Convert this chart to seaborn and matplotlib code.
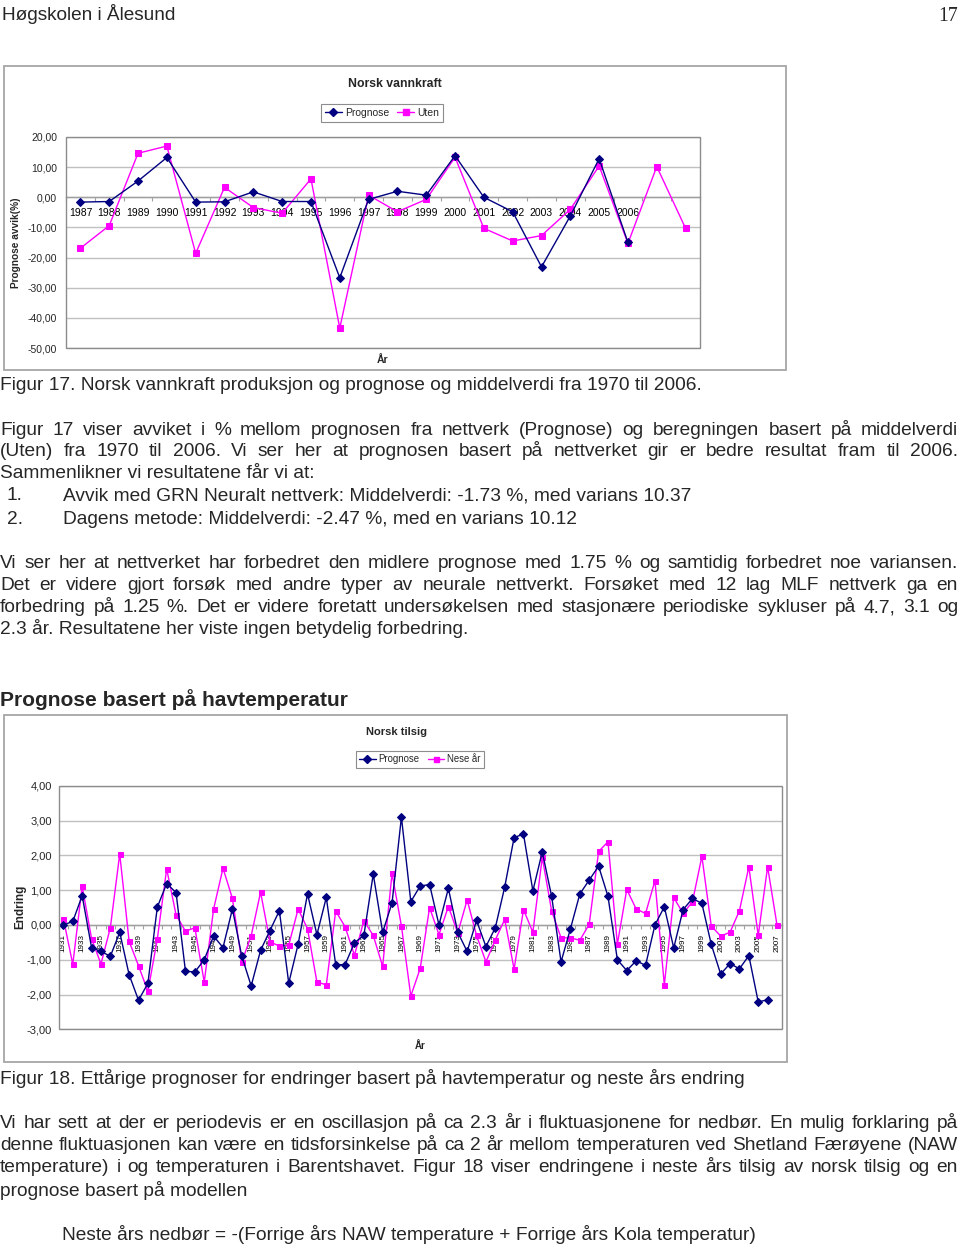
import numpy as np
import pandas as pd
import matplotlib
matplotlib.use("Agg")
import matplotlib.pyplot as plt
import seaborn as sns
from matplotlib.lines import Line2D
from matplotlib.patches import Rectangle
from matplotlib.ticker import FixedLocator, FuncFormatter, NullFormatter

# ---------------- data: chart 1 (Norsk vannkraft) ----------------
years1 = [str(y) for y in range(1987, 2007)] + ["", ""]
prognose1 = [-1.6, -1.4, 5.4, 13.2, -1.6, -1.5, 1.8, -1.4, -1.4, -26.7,
             -0.7, 2.0, 0.7, 13.8, 0.0, -4.8, -23.1, -6.2, 12.8, -15.0]
uten1 = [-16.9, -9.4, 14.6, 17.0, -18.6, 3.3, -3.4, -5.3, 6.1, -43.4,
         0.7, -4.8, -0.7, 13.3, -10.3, -14.5, -12.7, -4.0, 10.4, -15.3,
         10.2, -10.3]
yticks1 = [20, 10, 0, -10, -20, -30, -40, -50]

# ---------------- data: chart 2 (Norsk tilsig) ----------------
years2 = list(range(1931, 2008))
prognose2 = [0.00, 0.10, 0.84, -0.65, -0.76, -0.90, -0.21, -1.43, -2.16, -1.68,
             0.51, 1.19, 0.93, -1.33, -1.35, -1.00, -0.32, -0.65, 0.46, -0.90,
             -1.75, -0.73, -0.16, 0.41, -1.67, -0.55, 0.89, -0.28, 0.79, -1.14,
             -1.14, -0.51, -0.30, 1.46, -0.21, 0.63, 3.10, 0.67, 1.12, 1.16,
             0.00, 1.05, -0.21, -0.76, 0.13, -0.62, -0.08, 1.09, 2.51, 2.61,
             0.98, 2.10, 0.82, -1.06, -0.11, 0.89, 1.29, 1.69, 0.82, -1.00,
             -1.31, -1.03, -1.16, 0.00, 0.52, -0.66, 0.44, 0.76, 0.62, -0.56,
             -1.41, -1.11, -1.26, -0.88, -2.21, -2.15]
nese2 = [0.18, -1.13, 1.11, -0.39, -1.12, -0.08, 2.04, -0.47, -1.17, -1.91,
         -0.41, 1.61, 0.29, -0.18, -0.08, -1.64, 0.46, 1.63, 0.76, -1.06,
         -0.31, 0.94, -0.48, -0.61, -0.58, 0.46, -0.11, -1.64, -1.72, 0.40,
         -0.05, -0.87, 0.12, -0.30, -1.19, 1.48, -0.03, -2.04, -1.25, 0.50,
         -0.28, 0.53, -0.23, 0.72, -0.30, -1.06, -0.43, 0.16, -1.27, 0.44,
         -0.21, 1.94, 0.40, -0.37, -0.37, -0.44, 0.02, 2.11, 2.39, -0.55,
         1.02, 0.46, 0.33, 1.27, -1.72, 0.79, 0.33, 0.67, 1.97, -0.03,
         -0.32, -0.21, 0.41, 1.67, -0.30, 1.67, 0.00]
yticks2 = [4, 3, 2, 1, 0, -1, -2, -3]

NAVY = "#000080"
MAGENTA = "#FF00FF"
GRID = "#C0C0C0"
BORDER = "#8C8C8C"
FRAME = "#A6A6A6"

sns.set_style("white")
plt.rcParams["font.family"] = ["Liberation Sans", "DejaVu Sans"]

W, H = 960, 1245
fig = plt.figure(figsize=(W / 100, H / 100), dpi=100)
renderer = fig.canvas.get_renderer()


def fx(x):
    return x / W


def fy(y):
    return 1 - y / H


def axes_px(x0, y0, x1, y1):
    return fig.add_axes([fx(x0), fy(y1), (x1 - x0) / W, (y1 - y0) / H])


def frame_px(x0, y0, x1, y1):
    fig.patches.append(Rectangle((fx(x0), fy(y1)), (x1 - x0) / W, (y1 - y0) / H,
                                 transform=fig.transFigure, fill=False,
                                 edgecolor=FRAME, linewidth=1.3))


def comma_fmt(v, pos):
    return f"{v:.2f}".replace(".", ",")


def style_axes(ax, ncat, labels, yticks, ylim, ysize, xsize, xrot, xpad, ypad, label_every=1):
    ax.set_xlim(-0.5, ncat - 0.5)
    ax.set_ylim(*ylim)
    for s in ["top", "right", "left"]:
        ax.spines[s].set_visible(False)
    ax.spines["bottom"].set_position(("data", 0))
    ax.spines["bottom"].set_color("#A0A0A0")
    ax.spines["bottom"].set_linewidth(1.0)
    ax.add_patch(Rectangle((0, 0), 1, 1, transform=ax.transAxes, fill=False,
                           edgecolor=BORDER, linewidth=1.0, clip_on=False, zorder=5))
    ax.yaxis.set_major_locator(FixedLocator(yticks))
    ax.yaxis.set_major_formatter(FuncFormatter(comma_fmt))
    ax.yaxis.grid(True, color=GRID, linewidth=1.0)
    ax.xaxis.grid(False)
    ax.set_axisbelow(True)
    pos = [i for i in range(ncat) if i % label_every == 0 and labels[i] != ""]
    ax.xaxis.set_major_locator(FixedLocator(pos))
    ax.set_xticklabels([labels[i] for i in pos])
    ax.xaxis.set_minor_locator(FixedLocator(np.arange(ncat + 1) - 0.5))
    ax.xaxis.set_minor_formatter(NullFormatter())
    ax.tick_params(axis="x", which="major", length=0, pad=xpad, labelsize=xsize,
                   labelrotation=xrot, colors="black")
    ax.tick_params(axis="x", which="minor", length=3, width=0.8, color="#A0A0A0",
                   direction="out", bottom=True)
    ax.tick_params(axis="y", length=0, pad=ypad, labelsize=ysize)
    ax.set_xlabel("")
    ax.set_ylabel("")


# ---------------- header ----------------
fig.text(fx(2), fy(20), "Høgskolen i Ålesund", fontsize=13.7, va="baseline", ha="left")
fig.text(fx(958), fy(21), "17", fontsize=14.2, va="baseline", ha="right",
         family=["Liberation Serif", "DejaVu Serif"])

# ---------------- chart 1 ----------------
frame_px(4, 66, 786, 370)
ax1 = axes_px(66, 137, 700, 348)
df1a = pd.DataFrame({"pos": np.arange(len(prognose1)), "val": prognose1})
df1b = pd.DataFrame({"pos": np.arange(len(uten1)), "val": uten1})
sns.lineplot(data=df1b, x="pos", y="val", ax=ax1, color=MAGENTA, marker="s",
             markersize=3.8, markeredgecolor=MAGENTA, linewidth=1.0, errorbar=None, zorder=3)
sns.lineplot(data=df1a, x="pos", y="val", ax=ax1, color=NAVY, marker="D",
             markersize=3.6, markeredgecolor=NAVY, linewidth=1.0, errorbar=None, zorder=4)
style_axes(ax1, len(years1), years1, yticks1, (-50, 20), 7.5, 7.5, 0, 7.5, 6.5)

fig.text(fx(395), fy(84), "Norsk vannkraft", fontsize=8.8, fontweight="bold",
         ha="center", va="center")
fig.text(fx(16), fy(243), "Prognose avvik(%)", fontsize=7.3, fontweight="bold",
         rotation=90, ha="center", va="center")
fig.text(fx(383), fy(360), "År", fontsize=7.5, fontweight="bold", ha="center", va="center")

h1 = [Line2D([], [], color=NAVY, marker="D", markersize=3.6, lw=1.0),
      Line2D([], [], color=MAGENTA, marker="s", markersize=3.8, lw=1.0)]
leg1 = fig.legend(h1, ["Prognose", "Uten"], loc="center",
                  bbox_to_anchor=(fx(382), fy(113)), ncol=2, fontsize=7.5,
                  frameon=True, fancybox=False, edgecolor=BORDER, framealpha=1,
                  borderpad=0.35, handlelength=1.6, handletextpad=0.3,
                  columnspacing=0.8, borderaxespad=0)
leg1.get_frame().set_linewidth(0.8)

# ---------------- chart 2 ----------------
frame_px(4, 715, 787, 1062)
ax2 = axes_px(58.7, 785.7, 781.7, 1029.4)
df2a = pd.DataFrame({"pos": np.arange(len(prognose2)), "val": prognose2})
df2b = pd.DataFrame({"pos": np.arange(len(nese2)), "val": nese2})
sns.lineplot(data=df2b, x="pos", y="val", ax=ax2, color=MAGENTA, marker="s",
             markersize=3.6, markeredgecolor=MAGENTA, linewidth=1.0, errorbar=None, zorder=3)
sns.lineplot(data=df2a, x="pos", y="val", ax=ax2, color=NAVY, marker="D",
             markersize=3.6, markeredgecolor=NAVY, linewidth=1.0, errorbar=None, zorder=4)
style_axes(ax2, len(years2), [str(y) for y in years2], yticks2, (-3, 4), 8, 5.8, 90,
           6.5, 5, label_every=2)

fig.text(fx(396), fy(732), "Norsk tilsig", fontsize=8, fontweight="bold",
         ha="center", va="center")
fig.text(fx(20), fy(907), "Endring", fontsize=8.5, fontweight="bold",
         rotation=90, ha="center", va="center")
fig.text(fx(420), fy(1046), "År", fontsize=7, fontweight="bold", ha="center", va="center")

h2 = [Line2D([], [], color=NAVY, marker="D", markersize=3.6, lw=1.0),
      Line2D([], [], color=MAGENTA, marker="s", markersize=3.6, lw=1.0)]
leg2 = fig.legend(h2, ["Prognose", "Nese år"], loc="center",
                  bbox_to_anchor=(fx(420), fy(759.5)), ncol=2, fontsize=6.9,
                  frameon=True, fancybox=False, edgecolor=BORDER, framealpha=1,
                  borderpad=0.35, handlelength=1.7, handletextpad=0.3,
                  columnspacing=0.9, borderaxespad=0)
leg2.get_frame().set_linewidth(0.8)

# ---------------- body text ----------------
BODY = 13.8


def put_line(text, yc, x0=0.0, x1=958.0, justify=True, size=BODY, **kw):
    yb = fy(yc + 6.5)
    words = text.split(" ")
    if not justify or len(words) == 1:
        fig.text(fx(x0), yb, text, fontsize=size, va="baseline", ha="left", **kw)
        return
    objs = [fig.text(0, yb, w, fontsize=size, va="baseline", ha="left", **kw) for w in words]
    widths = [o.get_window_extent(renderer).width for o in objs]
    gap = (x1 - x0 - sum(widths)) / (len(words) - 1)
    x = x0
    for o, w in zip(objs, widths):
        o.set_x(fx(x))
        x += w + gap


put_line("Figur 17. Norsk vannkraft produksjon og prognose og middelverdi fra 1970 til 2006.",
         384, justify=False)
put_line("Figur 17 viser avviket i % mellom prognosen fra nettverk (Prognose) og beregningen basert på middelverdi", 428)
put_line("(Uten) fra 1970 til 2006. Vi ser her at prognosen basert på nettverket gir er bedre resultat fram til 2006.", 450)
put_line("Sammenlikner vi resultatene får vi at:", 472, justify=False)
put_line("1.", 494, x0=7, justify=False)
put_line("Avvik med GRN Neuralt nettverk: Middelverdi: -1.73 %, med varians 10.37", 494, x0=63, justify=False)
put_line("2.", 517, x0=7, justify=False)
put_line("Dagens metode: Middelverdi: -2.47 %, med en varians 10.12", 517, x0=63, justify=False)
put_line("Vi ser her at nettverket har forbedret den midlere prognose med 1.75 % og samtidig forbedret noe variansen.", 561)
put_line("Det er videre gjort forsøk med andre typer av neurale nettverkt. Forsøket med 12 lag MLF nettverk ga en", 583)
put_line("forbedring på 1.25 %. Det er videre foretatt undersøkelsen med stasjonære periodiske sykluser på 4.7, 3.1 og", 606)
put_line("2.3 år. Resultatene her viste ingen betydelig forbedring.", 628, justify=False)

fig.text(fx(0), fy(706), "Prognose basert på havtemperatur", fontsize=15.1,
         fontweight="bold", va="baseline", ha="left")

put_line("Figur 18. Ettårige prognoser for endringer basert på havtemperatur og neste års endring",
         1078, justify=False)
put_line("Vi har sett at der er periodevis er en oscillasjon på ca 2.3 år i fluktuasjonene for nedbør. En mulig forklaring på", 1122)
put_line("denne fluktuasjonen kan være en tidsforsinkelse på ca 2 år mellom temperaturen ved Shetland Færøyene (NAW", 1144)
put_line("temperature) i og temperaturen i Barentshavet. Figur 18 viser endringene i neste års tilsig av norsk tilsig og en", 1166)
put_line("prognose basert på modellen", 1189, justify=False)
put_line("Neste års nedbør = -(Forrige års NAW temperature + Forrige års Kola temperatur)",
         1233, x0=62, justify=False)

fig.savefig("out.png", dpi=100)
